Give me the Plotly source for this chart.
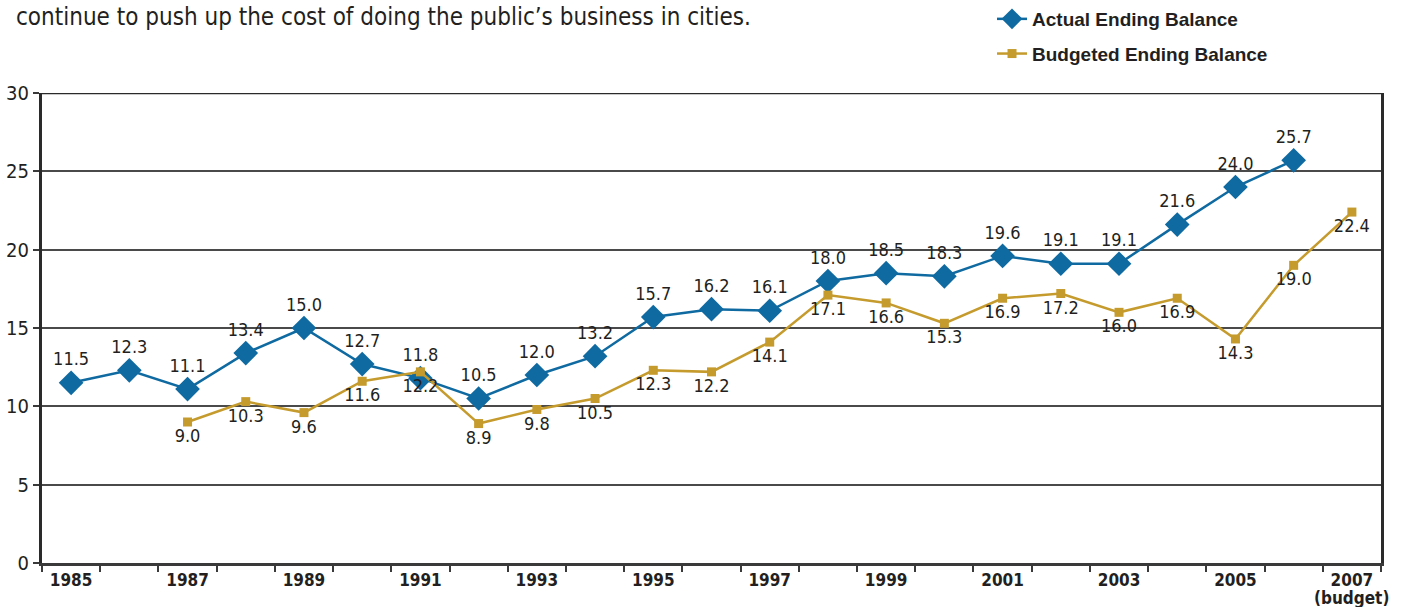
import plotly.graph_objects as go

# Ending balances as a percentage of general fund expenditures
years = list(range(1985, 2008))
actual = [11.5, 12.3, 11.1, 13.4, 15.0, 12.7, 11.8, 10.5, 12.0, 13.2, 15.7,
          16.2, 16.1, 18.0, 18.5, 18.3, 19.6, 19.1, 19.1, 21.6, 24.0, 25.7, None]
budgeted = [None, None, 9.0, 10.3, 9.6, 11.6, 12.2, 8.9, 9.8, 10.5, 12.3,
            12.2, 14.1, 17.1, 16.6, 15.3, 16.9, 17.2, 16.0, 16.9, 14.3, 19.0, 22.4]
label_years = list(range(1985, 2008, 2))
label_text = [str(y) for y in label_years]
budget_note = "(budget)"

BLUE = "#0f6aa1"
GOLD = "#c59b2e"
INK = "#231f20"
NARROW = "DejaVu Sans Condensed, Liberation Sans Narrow, Arial Narrow, sans-serif"


def fmt(v):
    return "" if v is None else f"{v:.1f}"


fig = go.Figure()

fig.add_trace(go.Scatter(
    x=years, y=actual, name="Actual Ending Balance",
    mode="lines+markers+text",
    line=dict(color=BLUE, width=2.5),
    marker=dict(symbol="diamond", size=19, color=BLUE),
    text=[fmt(v) for v in actual], textposition="top center",
    textfont=dict(family=NARROW, size=18, color=INK),
    legendgroup="a", connectgaps=False,
))

fig.add_trace(go.Scatter(
    x=years, y=budgeted, name="Budgeted Ending Balance",
    mode="lines+markers+text",
    line=dict(color=GOLD, width=2.5),
    marker=dict(symbol="square", size=9, color=GOLD),
    text=[fmt(v) for v in budgeted], textposition="bottom center",
    textfont=dict(family=NARROW, size=18, color=INK),
    legendgroup="b", connectgaps=False,
))

fig.update_layout(
    width=1403, height=607,
    margin=dict(l=42, r=22, t=93, b=44),
    paper_bgcolor="white", plot_bgcolor="white",
    showlegend=True,
    legend=dict(
        x=0.7095, y=1.0, xref="paper", yref="container",
        xanchor="left", yanchor="top",
        font=dict(family="Liberation Sans, Arial, sans-serif", size=19, color=INK, weight="bold"),
        tracegroupgap=7, itemwidth=30, bgcolor="rgba(0,0,0,0)",
    ),
    xaxis=dict(
        range=[1984.5, 2007.5], automargin=False,
        tickmode="array", tickvals=label_years, ticktext=label_text,
        ticks="", showgrid=False, zeroline=False,
        tickfont=dict(family=NARROW, size=17, color=INK, weight="bold"),
        showline=True, linecolor="#3a3a3a", linewidth=3, mirror=False,
        minor=dict(tick0=1984.5, dtick=1, ticks="outside", ticklen=6,
                   tickcolor="#3a3a3a", tickwidth=1.5, showgrid=False),
    ),
    yaxis=dict(
        range=[0, 30], dtick=5, tick0=0, automargin=False,
        ticks="outside", ticklen=6, tickcolor="#3a3a3a", tickwidth=1.5,
        showgrid=True, gridcolor="#4a4a4a", gridwidth=1.5, zeroline=False,
        tickfont=dict(family=NARROW, size=20, color=INK),
        showline=True, linecolor="#2a2a2a", linewidth=3, mirror=True,
    ),
)

# Second line under the final year's tick label
fig.add_annotation(
    xref="x", yref="paper", x=label_years[-1], y=0, yshift=-35,
    xanchor="center", yanchor="middle", showarrow=False,
    text=budget_note,
    font=dict(family=NARROW, size=17, color=INK, weight="bold"),
)

# Lead-in sentence above the chart
fig.add_annotation(
    xref="paper", yref="paper", x=-0.021, y=1.0, yshift=93 - 17,
    xanchor="left", yanchor="middle", showarrow=False,
    text="continue to push up the cost of doing the public\u2019s business in cities.",
    font=dict(family="DejaVu Sans Condensed, sans-serif", size=24, color=INK),
)

# Top frame edge
fig.add_shape(type="line", xref="paper", yref="y", x0=0, x1=1, y0=30, y1=30,
              line=dict(color="#2a2a2a", width=2.5))

fig.write_html("out.html")
